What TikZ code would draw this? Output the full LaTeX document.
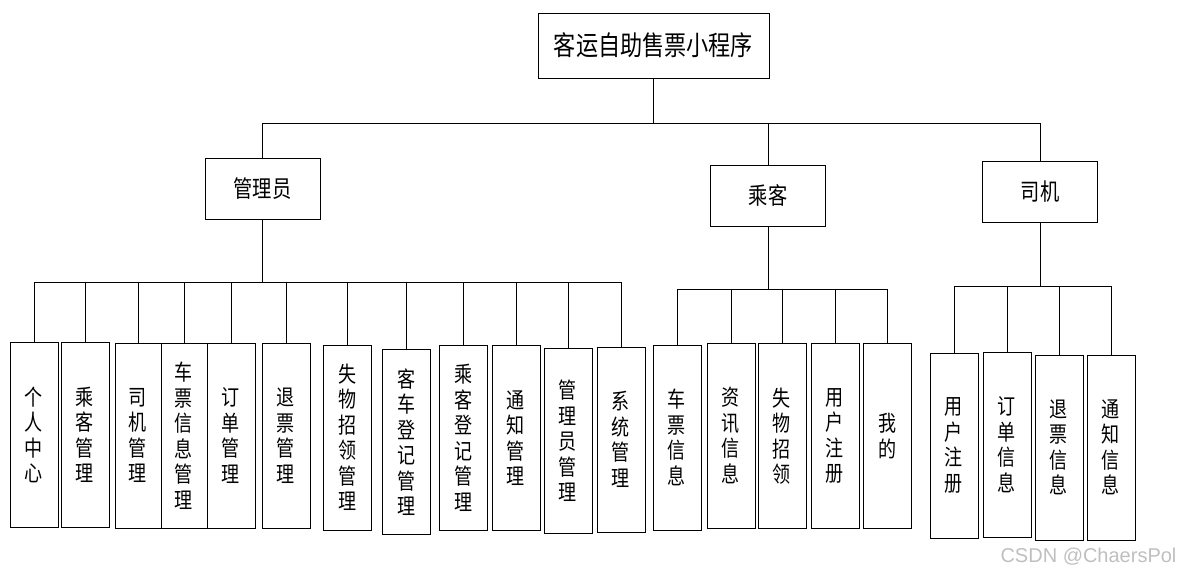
\documentclass[tikz,border=0pt]{standalone}
\usepackage{fontspec}
\newfontfamily\cjk[FakeStretch=0.82]{Noto Sans CJK SC}
\newfontfamily\marksans{Liberation Sans}
\begin{document}
\begin{tikzpicture}[x=1pt, y=-1pt, line width=0.75pt,
  box/.style={draw, inner sep=0pt},
  rootbox/.style={box, minimum width=231pt, minimum height=65pt, font=\cjk\fontsize{27}{30}\selectfont},
  rolebox/.style={box, minimum width=115pt, minimum height=61pt, font=\cjk\fontsize{23.5}{26}\selectfont},
  leaf/.style={box, minimum width=48pt, minimum height=185pt, align=center, font=\cjk\fontsize{22}{25.5}\selectfont}]
  \useasboundingbox (0,0) rectangle (1184,578);

  \node[rootbox] (app) at (653.5,45.5) {客运自助售票小程序};
  \node[rolebox] (admin) at (262.5,189) {管理员};
  \node[rolebox] (pass) at (768,195.5) {乘客};
  \node[rolebox] (drv) at (1040,192) {司机};

  \coordinate (top-bus) at (653.5,123);
  \draw (app.south) -- (top-bus);
  \draw (admin.north) |- (top-bus);
  \draw (pass.north) |- (top-bus);
  \draw (drv.north) |- (top-bus);

  \node[leaf] (a1) at (34,435) {个\\人\\中\\心};
  \node[leaf] (a2) at (85,435) {乘\\客\\管\\理};
  \node[leaf, minimum width=46pt] (a3) at (138,435.5) {司\\机\\管\\理};
  \node[leaf, minimum width=46pt] (a4) at (184,435.5) {车\\票\\信\\息\\管\\理};
  \node[leaf] (a5) at (231,435.5) {订\\单\\管\\理};
  \node[leaf] (a6) at (286,435.5) {退\\票\\管\\理};
  \node[leaf] (a7) at (347.5,437.5) {失\\物\\招\\领\\管\\理};
  \node[leaf] (a8) at (406.5,442) {客\\车\\登\\记\\管\\理};
  \node[leaf] (a9) at (463.5,438) {乘\\客\\登\\记\\管\\理};
  \node[leaf] (a10) at (516,438) {通\\知\\管\\理};
  \node[leaf] (a11) at (568,441) {管\\理\\员\\管\\理};
  \node[leaf] (a12) at (621,439.5) {系\\统\\管\\理};

  \coordinate (admin-bus) at (262.5,282);
  \draw (admin.south) -- (admin-bus);
  \draw (a1.north) |- (admin-bus);
  \draw (a2.north) |- (admin-bus);
  \draw (a3.north) |- (admin-bus);
  \draw (a4.north) |- (admin-bus);
  \draw (a5.north) |- (admin-bus);
  \draw (a6.north) |- (admin-bus);
  \draw (a7.north) |- (admin-bus);
  \draw (a8.north) |- (admin-bus);
  \draw (a9.north) |- (admin-bus);
  \draw (a10.north) |- (admin-bus);
  \draw (a11.north) |- (admin-bus);
  \draw (a12.north) |- (admin-bus);

  \node[leaf] (p1) at (677,437.5) {车\\票\\信\\息};
  \node[leaf] (p2) at (731,435.5) {资\\讯\\信\\息};
  \node[leaf] (p3) at (782,436) {失\\物\\招\\领};
  \node[leaf] (p4) at (835,436) {用\\户\\注\\册};
  \node[leaf] (p5) at (887.5,436) {我\\的};

  \coordinate (pass-bus) at (768,289);
  \draw (pass.south) -- (pass-bus);
  \draw (p1.north) |- (pass-bus);
  \draw (p2.north) |- (pass-bus);
  \draw (p3.north) |- (pass-bus);
  \draw (p4.north) |- (pass-bus);
  \draw (p5.north) |- (pass-bus);

  \node[leaf] (d1) at (954,445.5) {用\\户\\注\\册};
  \node[leaf] (d2) at (1007,444.5) {订\\单\\信\\息};
  \node[leaf] (d3) at (1059,447.5) {退\\票\\信\\息};
  \node[leaf] (d4) at (1111,447.5) {通\\知\\信\\息};

  \coordinate (drv-bus) at (1040,286);
  \draw (drv.south) -- (drv-bus);
  \draw (d1.north) |- (drv-bus);
  \draw (d2.north) |- (drv-bus);
  \draw (d3.north) |- (drv-bus);
  \draw (d4.north) |- (drv-bus);

  \node[font=\marksans\fontsize{20}{24}\selectfont, text=black!25] (mark) at (1088.5,557) {CSDN @ChaersPol};
\end{tikzpicture}
\end{document}
